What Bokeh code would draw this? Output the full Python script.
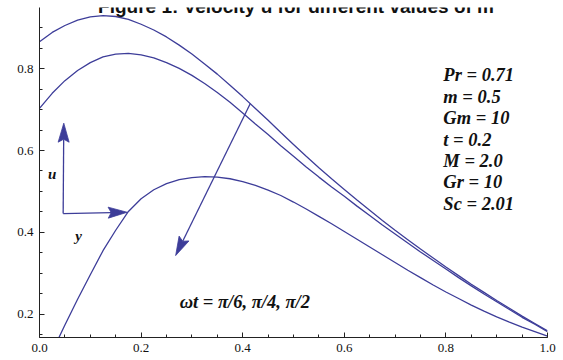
import numpy as np
from bokeh.plotting import figure
from bokeh.models import Range1d, SingleIntervalTicker, PrintfTickFormatter, Label
from bokeh.embed import file_html
from bokeh.resources import INLINE

# Distance from the plate, y = 0 ... 1 in steps of 0.025
y_pts = [0.000, 0.025, 0.050, 0.075, 0.100, 0.125, 0.150, 0.175, 0.200, 0.225,
         0.250, 0.275, 0.300, 0.325, 0.350, 0.375, 0.400, 0.425, 0.450, 0.475,
         0.500, 0.525, 0.550, 0.575, 0.600, 0.625, 0.650, 0.675, 0.700, 0.725,
         0.750, 0.775, 0.800, 0.825, 0.850, 0.875, 0.900, 0.925, 0.950, 0.975,
         1.000]

# Velocity profiles u(y) for wt = pi/6, pi/4, pi/2
u_pi6 = [0.866, 0.889, 0.906, 0.919, 0.927, 0.930, 0.928, 0.921, 0.909, 0.895,
         0.878, 0.858, 0.836, 0.812, 0.787, 0.760, 0.732, 0.703, 0.674, 0.644,
         0.615, 0.586, 0.558, 0.531, 0.505, 0.479, 0.454, 0.429, 0.405, 0.382,
         0.359, 0.337, 0.315, 0.294, 0.273, 0.253, 0.233, 0.214, 0.195, 0.177,
         0.159]
u_pi4 = [0.703, 0.740, 0.771, 0.796, 0.815, 0.829, 0.836, 0.838, 0.834, 0.827,
         0.815, 0.801, 0.784, 0.764, 0.742, 0.718, 0.692, 0.665, 0.639, 0.612,
         0.586, 0.560, 0.535, 0.511, 0.488, 0.464, 0.441, 0.418, 0.396, 0.374,
         0.352, 0.331, 0.310, 0.289, 0.269, 0.249, 0.230, 0.211, 0.192, 0.175,
         0.157]
u_pi2 = [0.040, 0.108, 0.173, 0.236, 0.296, 0.355, 0.405, 0.451, 0.482, 0.504,
         0.519, 0.529, 0.534, 0.536, 0.535, 0.531, 0.524, 0.515, 0.503, 0.490,
         0.474, 0.457, 0.439, 0.421, 0.402, 0.383, 0.364, 0.345, 0.326, 0.307,
         0.289, 0.271, 0.254, 0.238, 0.222, 0.207, 0.193, 0.180, 0.168, 0.157,
         0.146]

params = ["Pr = 0.71", "m = 0.5", "Gm = 10", "t = 0.2", "M = 2.0", "Gr = 10", "Sc = 2.01"]

CURVE = "#3d3d99"
SERIF = "Liberation Serif"

p = figure(width=563, height=360, output_backend="svg", toolbar_location=None,
           x_range=Range1d(0.0, 1.0), y_range=Range1d(0.1426, 0.95),
           min_border_left=39, min_border_right=16, min_border_top=7,
           min_border_bottom=23)
p.outline_line_color = None
p.grid.visible = False
p.background_fill_color = "white"
p.border_fill_color = "white"

for ax in (p.xaxis[0], p.yaxis[0]):
    ax.ticker = SingleIntervalTicker(interval=0.2, num_minor_ticks=4)
    ax.formatter = PrintfTickFormatter(format="%.1f")
    ax.axis_line_color = "#222222"
    ax.major_tick_line_color = "#222222"
    ax.minor_tick_line_color = "#222222"
    ax.major_tick_in = 5
    ax.major_tick_out = 0
    ax.minor_tick_in = 3
    ax.minor_tick_out = 0
    ax.major_label_text_font = SERIF
    ax.major_label_text_font_size = "13px"
    ax.major_label_text_color = "#111111"
    ax.major_label_standoff = 6

for u in (u_pi6, u_pi4, u_pi2):
    p.line(y_pts, u, line_color=CURVE, line_width=1.3)

# pixel scale of the frame, used to shape the arrow heads
SX, SY = 508.0, 408.0


def arrow(x0, y0, x1, y1, length=19.0, width=11.0, notch=3.0):
    dx, dy = (x1 - x0) * SX, (y1 - y0) * SY
    n = np.hypot(dx, dy)
    ux, uy = dx / n, dy / n
    px, py = -uy, ux
    bx, by = x1 * SX - length * ux, y1 * SY - length * uy
    nx, ny = x1 * SX - (length - notch) * ux, y1 * SY - (length - notch) * uy
    xs = [x1 * SX, bx + 0.5 * width * px, nx, bx - 0.5 * width * px]
    ys = [y1 * SY, by + 0.5 * width * py, ny, by - 0.5 * width * py]
    p.segment(x0, y0, nx / SX, ny / SY, line_color=CURVE, line_width=1.3)
    p.patch([v / SX for v in xs], [v / SY for v in ys], fill_color=CURVE,
            line_color=CURVE, line_width=0.8)


arrow(0.0466, 0.4458, 0.0478, 0.667)
arrow(0.0466, 0.4458, 0.1726, 0.449)
arrow(0.415, 0.715, 0.268, 0.343)

bi = dict(text_font=SERIF, text_font_style="bold italic", text_color="#111111",
          text_baseline="middle")
p.add_layout(Label(x=0.025, y=0.543, text="u", text_align="center",
                   text_font_size="15px", **bi))
p.add_layout(Label(x=0.077, y=0.391, text="y", text_align="center",
                   text_font_size="15px", **bi))
for i, t in enumerate(params):
    p.add_layout(Label(x=0.795, y=0.784 - i * 0.0524, text=t, text_align="left",
                       text_font_size="18.5px", **bi))
p.add_layout(Label(x=0.276, y=0.230, text="\u03c9t = \u03c0/6, \u03c0/4, \u03c0/2",
                   text_align="left", text_font_size="18.5px", **bi))

p.add_layout(Label(x=0.505, y=0.9515, text="Figure 1: Velocity u for different values of m",
                   text_align="center", text_baseline="alphabetic",
                   text_font="Liberation Sans", text_font_style="bold",
                   text_font_size="19px", text_color="#111111"))

open("out.html", "w").write(file_html(p, INLINE))
